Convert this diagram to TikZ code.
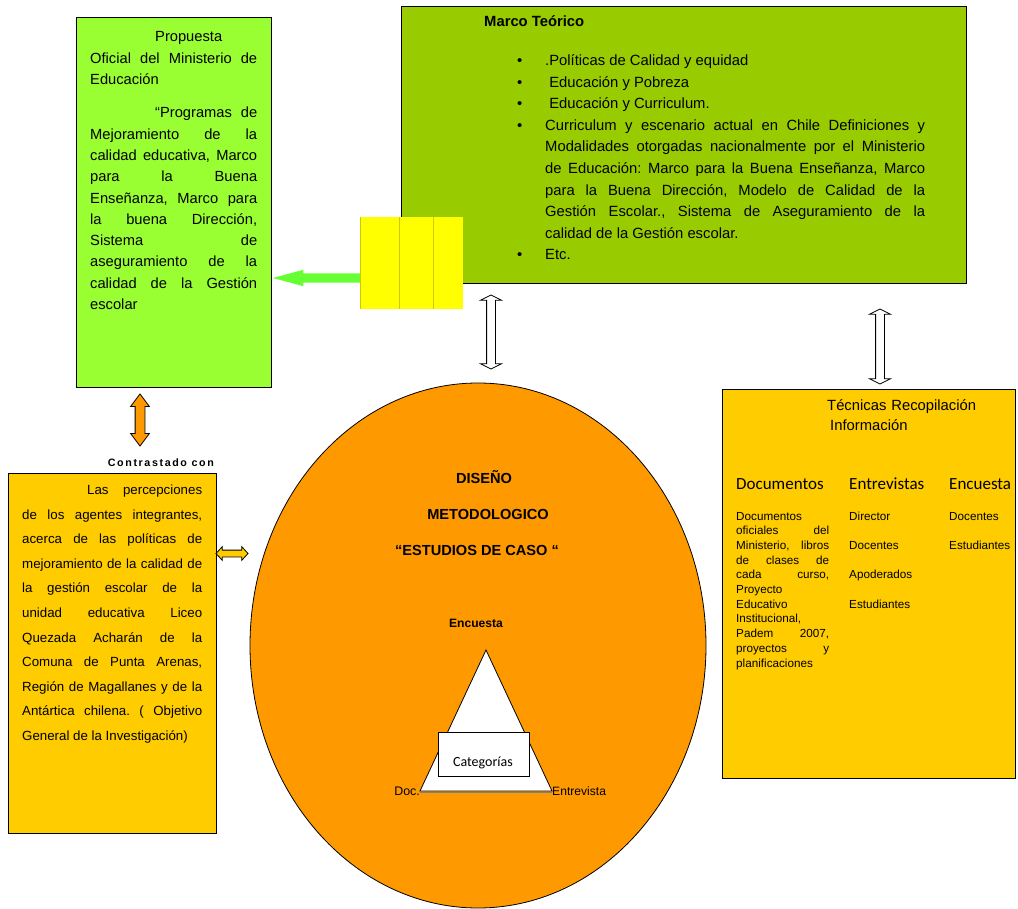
\documentclass[tikz,border=0pt]{standalone}
\usepackage{fontspec}
\setmainfont{Liberation Sans}
\newfontfamily\calibri{Carlito}
\usetikzlibrary{shapes.geometric,shapes.arrows}
\frenchspacing

\definecolor{verdeprop}{HTML}{99FF33}
\definecolor{verdemarco}{HTML}{99CC00}
\definecolor{verdeflecha}{HTML}{66FF33}
\definecolor{amarillo}{HTML}{FFCC00}
\definecolor{naranja}{HTML}{FF9900}
\definecolor{amarillobloque}{HTML}{FFFF00}
\definecolor{bordebloque}{HTML}{CCCC00}

\tikzset{
  caja/.style={draw=black, line width=1pt, anchor=north west, inner sep=0pt},
  texto/.style={inner sep=0pt, anchor=base west, align=justify},
  rotulo/.style={inner sep=0pt},
  flechadoble/.style={double arrow, draw=black, line width=0.8pt, inner xsep=0pt},
  flechablanca/.style={flechadoble, fill=white, inner ysep=4pt,
    double arrow head extend=6pt, double arrow tip angle=127},
}

\begin{document}
\begin{tikzpicture}[x=1pt, y=-1pt]
\useasboundingbox (0,0) rectangle (1018,909);

\node[caja, fill=verdeprop, minimum width=195pt, minimum height=370pt] (propuesta) at (76,17) {};
\node[texto, text width=167pt, font=\fontsize{14.7}{21.3}\selectfont] (textoprop) at (90,42)
  {\hspace*{65pt}Propuesta\newline Oficial del Ministerio de\linebreak Educación\par\vspace{12pt}%
   \hspace*{65pt}“Programas de\linebreak Mejoramiento de la\linebreak calidad educativa, Marco\linebreak
   para la Buena\linebreak Enseñanza, Marco para\linebreak la buena Dirección,\linebreak
   Sistema de\linebreak aseguramiento de la\linebreak calidad de la Gestión\linebreak escolar};

\node[caja, fill=verdemarco, minimum width=565pt, minimum height=277pt] (marco) at (401,6) {};
\node[rotulo, anchor=base west, font=\bfseries\fontsize{14.8}{18}\selectfont] (titulomarco) at (484,27) {Marco Teórico};
\node[texto, text width=408pt, font=\fontsize{14.8}{21.6}\selectfont] (listamarco) at (517,65.5)
  {\hangindent=28pt\hangafter=1\makebox[28pt][l]{\textbullet}.Políticas de Calidad y equidad\par
   \hangindent=28pt\hangafter=1\makebox[28pt][l]{\textbullet}\ Educación y Pobreza\par
   \hangindent=28pt\hangafter=1\makebox[28pt][l]{\textbullet}\ Educación y Curriculum.\par
   \hangindent=28pt\hangafter=1\makebox[28pt][l]{\textbullet}Curriculum y escenario actual en Chile Definiciones y\linebreak
   Modalidades otorgadas nacionalmente por el Ministerio\linebreak
   de Educación: Marco para la Buena Enseñanza, Marco\linebreak
   para la Buena Dirección, Modelo de Calidad de la\linebreak
   Gestión Escolar., Sistema de Aseguramiento de la\linebreak
   calidad de la Gestión escolar.\par
   \hangindent=28pt\hangafter=1\makebox[28pt][l]{\textbullet}Etc.\par};

\node[single arrow, fill=verdeflecha, inner xsep=0pt, inner ysep=4.5pt, minimum height=90pt,
  single arrow head extend=3.5pt, single arrow tip angle=30, rotate=180, anchor=tip] (flechaprop) at (272,278) {};

\fill[amarillobloque] (360,217) rectangle (463,309);
\draw[bordebloque, line width=0.8pt] (360,217) -- (360,309) (399,217) -- (399,309) (433,217) -- (433,309);

\node[flechablanca, minimum height=74pt, rotate=90] (flechacentro) at (491,332) {};
\node[flechablanca, minimum height=75pt, rotate=90] (flechatecnicas) at (880,346.5) {};

\node[flechadoble, fill=naranja, minimum height=52pt, inner ysep=4.5pt,
  double arrow head extend=4.5pt, double arrow tip angle=74, rotate=90] (flechacontraste) at (140,420) {};

\node[rotulo, anchor=east, font=\bfseries\fontsize{10.7}{12}\selectfont\addfontfeature{LetterSpace=15}] (contrastado) at (214,463) {Contrastado con};

\node[caja, fill=amarillo, minimum width=208pt, minimum height=360pt] (percepciones) at (8,473) {};
\node[texto, text width=180pt, font=\fontsize{13.3}{24.6}\selectfont] (textoperc) at (22,494.5)
  {\hspace*{65pt}Las percepciones\linebreak de los agentes integrantes,\linebreak acerca de las políticas de\linebreak
   mejoramiento de la calidad de\linebreak la gestión escolar de la\linebreak unidad educativa Liceo\linebreak
   Quezada Acharán de la\linebreak Comuna de Punta Arenas,\linebreak Región de Magallanes y de la\linebreak
   Antártica chilena. ( Objetivo\linebreak General de la Investigación)};

\node[flechadoble, fill=amarillo, minimum height=32pt, inner ysep=3pt,
  double arrow head extend=3.5pt, double arrow tip angle=95] (flechaperc) at (232,553.5) {};

\node[ellipse, draw=black, line width=0.8pt, fill=naranja, minimum width=456pt, minimum height=525pt, inner sep=0pt] (diseno) at (478,645.5) {};
\node[rotulo, font=\bfseries\fontsize{14.6}{17}\selectfont] (disenoa) at (484,477) {DISEÑO};
\node[rotulo, font=\bfseries\fontsize{14.6}{17}\selectfont] (disenob) at (488,514) {METODOLOGICO};
\node[rotulo, font=\bfseries\fontsize{14.6}{17}\selectfont] (disenoc) at (477,550) {“ESTUDIOS DE CASO “};
\node[rotulo, font=\bfseries\fontsize{12.1}{14}\selectfont] (encuestatri) at (476,623) {Encuesta};

\coordinate (vertice) at (486,650);
\coordinate (basea) at (420,791);
\coordinate (baseb) at (552,791);
\draw[black, line width=0.8pt, fill=white] (basea) -- (vertice) -- (baseb) -- cycle;
\draw[gray, line width=1.2pt] ([yshift=-1.5pt]basea) -- ([yshift=-1.5pt]baseb);
\node[draw=black, line width=0.8pt, fill=white, minimum width=91pt, minimum height=44pt, inner sep=0pt] (categorias) at (484,754) {};
\node[rotulo, font=\calibri\fontsize{14}{16}\selectfont] (textocat) at (483,763) {Categorías};
\node[rotulo, anchor=east, font=\fontsize{12.4}{14}\selectfont] (doc) at (basea) {Doc.};
\node[rotulo, anchor=west, font=\fontsize{12.1}{14}\selectfont] (entrevistatri) at (baseb) {Entrevista};

\node[caja, fill=amarillo, minimum width=293pt, minimum height=389pt] (tecnicas) at (722,389) {};
\node[texto, text width=180pt, align=left, font=\fontsize{14.8}{20}\selectfont] (titulotec) at (827,410)
  {Técnicas Recopilación\\\hspace*{3pt}Información};
\node[rotulo, anchor=base west, font=\calibri\fontsize{17}{20}\selectfont] (coldoc) at (736,489) {Documentos};
\node[rotulo, anchor=base west, font=\calibri\fontsize{17}{20}\selectfont] (colent) at (849,489) {Entrevistas};
\node[rotulo, anchor=base west, font=\calibri\fontsize{17}{20}\selectfont] (colenc) at (949,489) {Encuesta};
\node[texto, text width=93pt, font=\fontsize{11.7}{14.7}\selectfont] (listadoc) at (736,520)
  {Documentos\linebreak oficiales del\linebreak Ministerio, libros\linebreak de clases de\linebreak cada curso,\linebreak
   Proyecto\linebreak Educativo\linebreak Institucional,\linebreak Padem 2007,\linebreak proyectos y\linebreak planificaciones};
\node[texto, text width=80pt, align=left, font=\fontsize{11.7}{29.4}\selectfont] (listaent) at (849,520)
  {Director\\Docentes\\Apoderados\\Estudiantes};
\node[texto, text width=66pt, align=left, font=\fontsize{11.7}{29.4}\selectfont] (listaenc) at (949,520)
  {Docentes\\Estudiantes};
\end{tikzpicture}
\end{document}
